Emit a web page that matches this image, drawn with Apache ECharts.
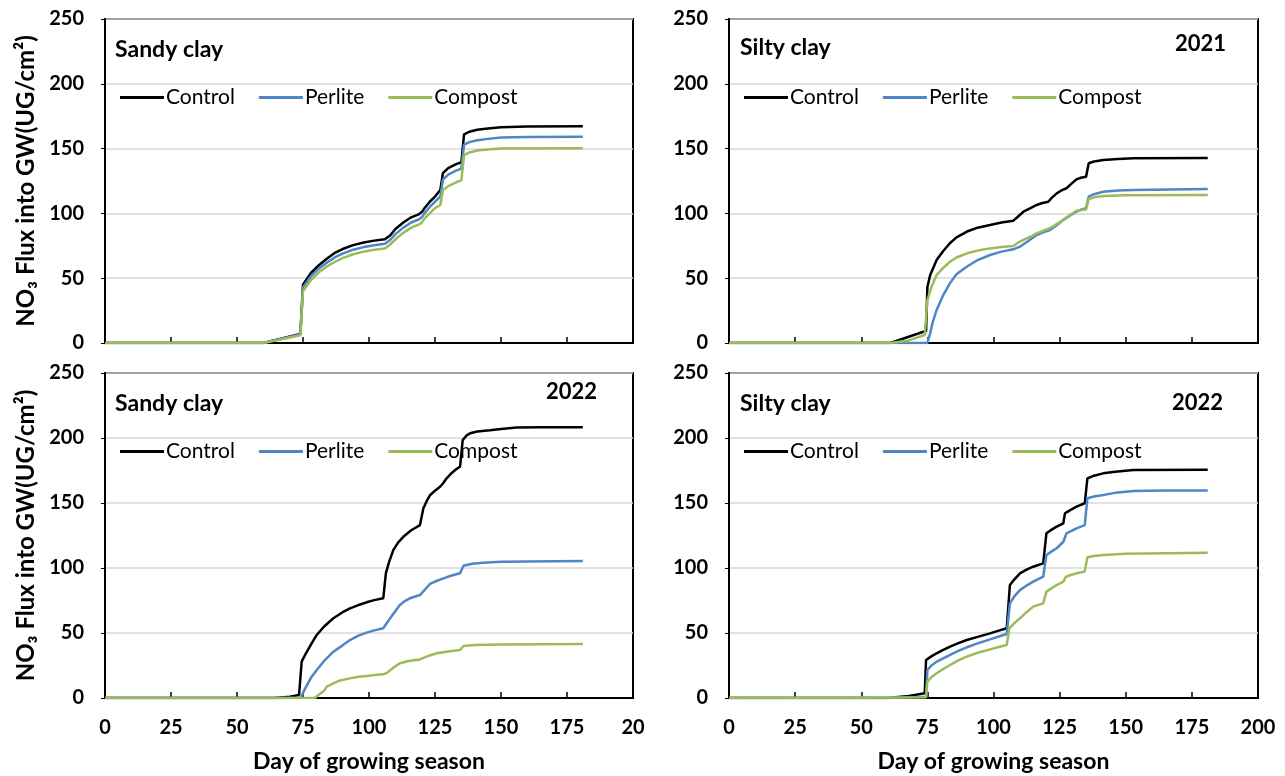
<!DOCTYPE html>
<html><head><meta charset="utf-8">
<script src="https://cdn.jsdelivr.net/npm/echarts@6/dist/echarts.min.js"></script>
<style>html,body{margin:0;padding:0;background:#fff}#c{width:1285px;height:776px}</style>
</head><body><div id="c"></div>
<script>
// ---- data: [day, NO3 flux] ----
const seriesNames = ['Control', 'Perlite', 'Compost'];
const xTicks = [0, 25, 50, 75, 100, 125, 150, 175, 200];
const yTicks = [0, 50, 100, 150, 200, 250];

const sandy2021Control = [[0,0],[60,0],[74,7],[75,45],[78,54],[81,60],[84,65],[87,69.5],[90,72.5],[94,75.5],[98,77.5],[102,79],[106,80],[108,83],[110,88],[113,93],[116,97],[119,99.5],[120,101],[121,104],[123,109],[125,113],[127,118],[128,131],[130,135],[133,138],[135,139.5],[136,161],[138,163],[141,164.5],[145,165.5],[150,166.5],[160,167],[181,167.2]];
const sandy2021Perlite = [[0,0],[60,0],[74,6.5],[75,43],[78,51.5],[81,57.5],[84,62],[87,66],[90,69],[94,72],[98,74],[102,75.5],[106,76.5],[108,79.5],[110,84],[113,89],[116,93],[119,95.5],[120,97],[121,100],[123,105],[125,109],[127,113],[128,126],[130,130],[133,133],[135,134.5],[136,153],[138,155],[141,156.5],[145,157.5],[150,158.5],[160,159],[181,159.2]];
const sandy2021Compost = [[0,0],[60,0],[74,6],[75,40],[78,48.5],[81,54.5],[84,59],[87,62.5],[90,65.5],[94,68.5],[98,70.5],[102,72],[106,73],[108,76],[110,80],[113,85],[116,89],[119,91.5],[120,93],[121,96],[123,100],[125,104],[127,106.5],[128,118],[130,121],[133,124],[135,125.5],[136,145],[138,147],[141,148.5],[145,149.3],[150,150],[181,150.2]];

const silty2021Control = [[0,0],[61,0],[73.5,8.7],[74.5,9],[75,43],[76,52],[78.5,64],[81,71],[83.5,77],[86,81.5],[90,86],[94,89],[98.7,91],[103,93],[107.5,94.4],[109,97],[111.3,101.3],[114,104],[116.3,106.5],[118.5,108],[120.7,109],[122,112],[123.9,115.5],[125.5,117.5],[127.6,119.4],[129.5,123],[131.4,126.3],[133,127.5],[135,128.3],[136,138.7],[138,140],[141.5,141.2],[147,142],[153,142.5],[181,142.8]];
const silty2021Perlite = [[0,0],[75,0],[76,7],[77,16],[78.5,25.5],[81,37],[83.5,46],[86,53],[90,59],[94,64],[98.7,67.9],[103,70.5],[107.5,72.3],[110,74.3],[113,78.5],[116.3,83.3],[119,85.5],[121.4,87.2],[124,91],[126.4,95],[129,98.5],[131.4,101.3],[133,102.8],[135,104],[136,112.9],[138,114.8],[141.5,116.7],[147,117.6],[153,118],[181,118.8]];
const silty2021Compost = [[0,0],[61,0],[68,2],[74,6.2],[75,33],[76.5,43],[78.5,52.5],[81,58],[83.5,62.7],[86,66],[90,69.2],[94,71.3],[98.7,73],[103,74],[107.5,74.8],[109,77],[111.3,79.5],[114,82],[116.3,84.6],[119,86.8],[121.4,88.5],[124,92],[126.4,95],[129,99],[131.4,102],[133,102.6],[135,103],[136,111],[138,112.4],[141.5,113.4],[150,114],[181,114.2]];

const sandy2022Control = [[0,0],[64,0],[70,1],[73.5,2.3],[74.5,28],[76,34],[78,41],[80.2,48.5],[83,55],[86.5,61.3],[90,66],[92.8,69],[96,71.5],[99.1,73.6],[102,75.3],[105.4,76.7],[106.4,96],[107.5,104],[109.2,113.8],[111,119.5],[113,124],[116,129],[119.3,133],[120.6,146],[122,152],[123.1,156],[125,159.5],[126.9,162.5],[128,165],[129.4,169],[131,172.5],[133,176],[134.5,178],[135.5,198.5],[137,202],[138.3,203.6],[141,205],[145.8,206],[150,207],[155.9,208],[165,208.3],[181,208.3]];
const sandy2022Perlite = [[0,0],[74,0],[76,8],[78,15.5],[80.2,21.5],[83,28.5],[86.5,35.6],[90,40.5],[92.8,44.6],[96,48],[99.1,50.3],[102,52],[105.4,53.6],[108,61.3],[110,67],[111.7,71.5],[113.5,74.5],[115.5,76.7],[119.3,79.2],[121,83],[123.1,87.7],[125.5,90],[128.2,92],[131,94],[134.5,95.9],[135.8,101.8],[139,103.2],[143.3,104.1],[150,104.8],[181,105.4]];
const sandy2022Compost = [[0,0],[79.5,0],[81,2.5],[83,5.5],[84,8.7],[86.5,11.3],[89,13.5],[92.8,15.1],[96,16.4],[99.1,17],[102,17.6],[105.4,18.2],[107,19.5],[109,23],[111.7,26.7],[115,28.5],[119.3,29.7],[122,32],[125.6,34.4],[130,35.8],[134.5,36.9],[135.8,40],[140,40.8],[150,41.2],[181,41.5]];

const silty2022Control = [[0,0],[60,0],[68,1.5],[74,3.6],[74.5,29.2],[76.5,32],[78.5,34.4],[81,37],[83.6,39.5],[86.5,42],[89.9,44.6],[94,47],[98.7,49.7],[102,51.8],[105,53.6],[106.2,86.9],[108,91.5],[110,95.9],[112.5,98.8],[115,101],[118.8,103.6],[120,126.7],[122,129.5],[123.9,131.8],[126.4,134.4],[127,142],[129,144.5],[131.4,147.2],[134.5,149.8],[135.5,169],[138,171],[141.5,172.8],[146,174],[152.9,175.4],[181,175.6]];
const silty2022Perlite = [[0,0],[60,0],[70,0.5],[74.5,1],[75,21.5],[76.5,25],[78.5,27.9],[81,30.5],[83.6,33.1],[86.5,36],[89.9,39],[94,42],[98.7,45.1],[102,47.3],[105,49.2],[106.2,72.8],[108,78.5],[110,83],[112.5,86.5],[115,89.5],[118.8,93.3],[120,110],[122,112.8],[123.9,115.2],[126.4,120.2],[127.6,126.7],[129.5,128.5],[131.4,130.5],[134.5,133],[135.5,153.6],[138,155],[141.5,156.2],[146,157.8],[152.9,159.2],[165,159.6],[181,159.7]];
const silty2022Compost = [[0,0],[74.5,0.5],[75,12.6],[76.5,16],[78.5,19],[81,22.3],[83.6,25.4],[86.5,28.8],[89.9,31.8],[94,34.8],[98.7,37.4],[102,39.2],[105,40.8],[106,53.6],[108,57.8],[110,61.3],[112.5,66],[115,70.3],[118.8,72.8],[120,81.8],[122,84.5],[123.9,86.9],[126.4,89.5],[127.4,93.3],[129.5,94.8],[131.4,95.9],[134.5,97.2],[135.5,108.2],[138,109.2],[141.5,110],[150,111],[181,111.8]];

const panels = [
  {soil:'Sandy clay', year:'',     data:[sandy2021Control, sandy2021Perlite, sandy2021Compost]},
  {soil:'Silty clay', year:'2021', data:[silty2021Control, silty2021Perlite, silty2021Compost]},
  {soil:'Sandy clay', year:'2022', data:[sandy2022Control, sandy2022Perlite, sandy2022Compost]},
  {soil:'Silty clay', year:'2022', data:[silty2022Control, silty2022Perlite, silty2022Compost]}
];
const colors = ['#000000', '#4f86c6', '#9bbb59'];

// ---- layout ----
const FONT = "Lato, 'Noto Sans', sans-serif";
const gridBoxes = [
  {left:105, top:19,  width:528, height:324},
  {left:729, top:19,  width:529, height:324},
  {left:105, top:373, width:528, height:325},
  {left:729, top:373, width:529, height:325}
];
const titlePos = [
  {soil:[115,38], year:null},
  {soil:[740,36], year:[1175,33]},
  {soil:[115,392], year:[546,381]},
  {soil:[740,392], year:[1172,392]}
];
const legendPos = [[120,87],[744,87],[120,441],[744,441]];

const grids = [], xAxes = [], yAxes = [], series = [], legends = [], graphics = [];
panels.forEach((p, i) => {
  const g = gridBoxes[i];
  grids.push({left:g.left, top:g.top, width:g.width, height:g.height, show:true, borderColor:'#000', borderWidth:2, containLabel:false});
  const bottomRow = i >= 2;
  const leftCol = i % 2 === 0;
  xAxes.push({
    type:'value', gridIndex:i, min:xTicks[0], max:xTicks[xTicks.length-1], interval:25,
    axisLine:{show:true, onZero:false, lineStyle:{color:'#000', width:2}},
    axisTick:{show:true, inside:true, length:6, lineStyle:{color:'#000', width:1.5}},
    splitLine:{show:false},
    axisLabel:{show:bottomRow, margin:20, color:'#000', fontFamily:FONT, fontWeight:'bold', fontSize:20,
      formatter: v => (leftCol && v === 200) ? '20' : String(v)},
    name: bottomRow ? 'Day of growing season' : '', nameLocation:'middle', nameGap:52,
    nameTextStyle:{color:'#000', fontFamily:FONT, fontWeight:'bold', fontSize:23}
  });
  yAxes.push({
    type:'value', gridIndex:i, min:yTicks[0], max:yTicks[yTicks.length-1], interval:50,
    axisLine:{show:true, lineStyle:{color:'#000', width:2}},
    axisTick:{show:true, inside:false, length:4, lineStyle:{color:'#000', width:1}},
    splitLine:{show:true, lineStyle:{color:'#d9d9d9', width:1.5}},
    axisLabel:{margin:21, color:'#000', fontFamily:FONT, fontWeight:'bold', fontSize:20},
    name: leftCol ? 'NO\u2083 Flux into GW(UG/cm\u00b2)' : '', nameLocation:'middle', nameGap:67, nameRotate:90,
    nameTextStyle:{color:'#000', fontFamily:FONT, fontWeight:'bold', fontSize:24}
  });
  p.data.forEach((d, k) => {
    series.push({
      name:seriesNames[k], type:'line', xAxisIndex:i, yAxisIndex:i, data:d,
      showSymbol:false, symbol:'none', smooth:false,
      lineStyle:{color:colors[k], width:2.5}, itemStyle:{color:colors[k]},
      emphasis:{disabled:true}, animation:false
    });
  });
  legends.push({
    left:legendPos[i][0], top:legendPos[i][1], padding:0, itemGap:24, itemWidth:44, itemHeight:3,
    icon:'rect', data:seriesNames, selectedMode:false,
    textStyle:{color:'#000', fontFamily:FONT, fontSize:21, padding:[0,0,0,-3]}
  });
  graphics.push({type:'text', left:titlePos[i].soil[0], top:titlePos[i].soil[1],
    style:{text:p.soil, fill:'#000', font:"bold 23px " + FONT}});
  if (p.year) graphics.push({type:'text', left:titlePos[i].year[0], top:titlePos[i].year[1],
    style:{text:p.year, fill:'#000', font:"bold 22px " + FONT}});
});

const chart = echarts.init(document.getElementById('c'), null, {renderer:'canvas'});
chart.setOption({
  animation:false, backgroundColor:'#fff',
  grid:grids, xAxis:xAxes, yAxis:yAxes, series:series, legend:legends, graphic:graphics
});
</script></body></html>
